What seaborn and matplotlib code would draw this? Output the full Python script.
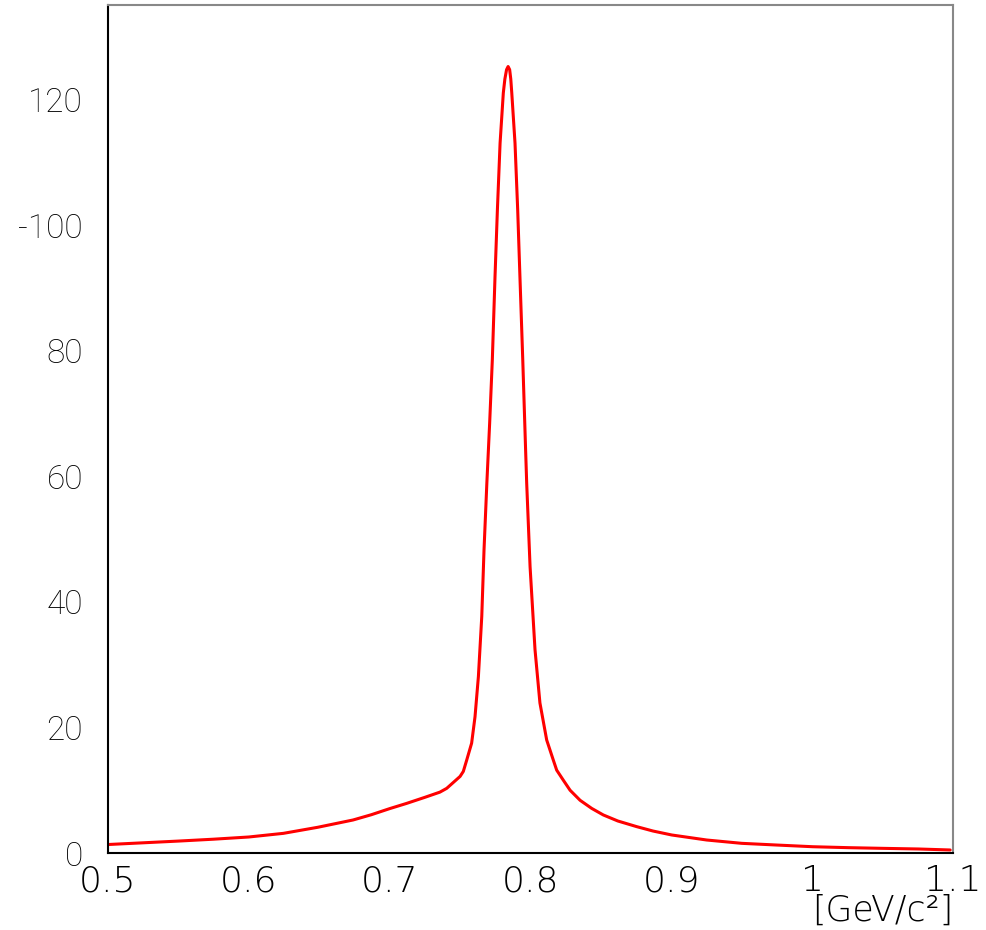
import matplotlib
matplotlib.use("Agg")
import matplotlib.pyplot as plt
import seaborn as sns
import pandas as pd
from matplotlib.ticker import MultipleLocator, FixedLocator

# Invariant mass [GeV/c^2] and curve values
mass = [0.5, 0.55, 0.575, 0.6, 0.6245, 0.649, 0.674, 0.687, 0.7, 0.712,
        0.725, 0.7357, 0.7405, 0.75, 0.7523, 0.7547, 0.7582, 0.7606,
        0.763, 0.7654, 0.767, 0.769, 0.771, 0.7729, 0.7748, 0.7765,
        0.7784, 0.7807, 0.7818, 0.783, 0.7841, 0.7852, 0.786, 0.7867,
        0.789, 0.7909, 0.7925, 0.7945, 0.7966, 0.7973, 0.7997, 0.8032,
        0.8067, 0.8115, 0.8162, 0.8186, 0.8233, 0.8281, 0.8352, 0.8435,
        0.8517, 0.862, 0.8754, 0.887, 0.9003, 0.9251, 0.95, 0.9748,
        1.0004, 1.0257, 1.0505, 1.0754, 1.098]
values = [1.35, 1.9, 2.2, 2.55, 3.13, 4.1, 5.26, 6.1, 7.07, 7.9,
          8.87, 9.7, 10.3, 12.2, 13.0, 14.8, 17.5, 21.7,
          28.1, 37.7, 48.3, 58.9, 68.5, 78.6, 91.8, 102.5,
          113.1, 121.1, 123.3, 124.8, 125.3, 124.8, 123.3, 121.1,
          113.1, 102.5, 91.8, 78.6, 63.7, 58.9, 45.6, 32.4,
          23.9, 18.0, 14.8, 13.2, 11.6, 10.0, 8.4, 7.1,
          6.06, 5.1, 4.2, 3.5, 2.87, 2.07, 1.54, 1.27,
          1.0, 0.85, 0.74, 0.64, 0.48]

ytick_vals = [0, 20, 40, 60, 80, 100, 120]
ytick_labels = ["0", "20", "40", "60", "80", "-100", "120"]
xtick_vals = [0.5, 0.6, 0.7, 0.8, 0.9, 1.0, 1.1]
xtick_labels = ["0.5", "0.6", "0.7", "0.8", "0.9", "1", "1.1"]
x_title = "[GeV/c²]"

sns.set_theme(style="white")
plt.rcParams["font.family"] = ["Liberation Sans", "DejaVu Sans"]

df = pd.DataFrame({"mass": mass, "value": values})

fig = plt.figure(figsize=(9.87, 9.30), dpi=100)
ax = fig.add_axes([108/987, 1-853/930, (953-108)/987, (853-5)/930])

sns.lineplot(data=df, x="mass", y="value", ax=ax, color="#ff0000",
             linewidth=2.2, sort=False)

ax.set_xlim(0.5, 1.1)
ax.set_ylim(0, 135.1)

ax.xaxis.set_major_locator(FixedLocator(xtick_vals))
ax.set_xticklabels(xtick_labels, fontsize=26,
                   family=["DejaVu Sans"], fontweight="light")
ax.xaxis.set_minor_locator(MultipleLocator(0.025))
ax.yaxis.set_major_locator(FixedLocator(ytick_vals))
ax.set_yticklabels(ytick_labels, fontsize=24,
                   family=["Roboto", "Liberation Sans"], fontweight="light")
ax.yaxis.set_minor_locator(MultipleLocator(5))

ax.tick_params(axis="both", which="major", direction="in", length=12,
               width=1.0, color="#222222", labelcolor="black")
ax.tick_params(axis="both", which="minor", direction="in", length=6,
               width=1.0, color="#333333")
ax.tick_params(axis="x", which="major", pad=8)
ax.tick_params(axis="y", which="major", pad=18)
ax.tick_params(top=False, right=False, which="both")

for side in ["left", "bottom"]:
    ax.spines[side].set_color("black")
    ax.spines[side].set_linewidth(1.5)
for side in ["top", "right"]:
    ax.spines[side].set_color("#888888")
    ax.spines[side].set_linewidth(1.5)

ax.set_xlabel(x_title, fontsize=25, loc="right", labelpad=-3,
              color="black", family=["DejaVu Sans"], fontweight="light")
ax.set_ylabel("")
ax.grid(False)

fig.savefig("out.png", dpi=100)
